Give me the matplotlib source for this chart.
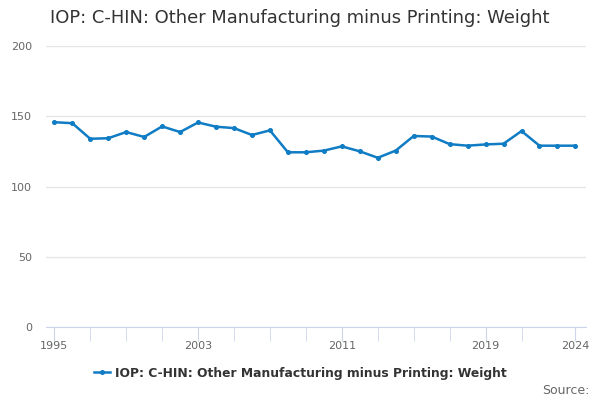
import matplotlib
matplotlib.use("Agg")
import matplotlib.pyplot as plt

# --- datos ---
years = list(range(1995, 2025))
weight = [145.8, 145.1, 134.0, 134.4, 138.8, 135.3, 142.8, 138.8, 145.6, 142.6,
          141.6, 136.7, 140.0, 124.4, 124.4, 125.6, 128.6, 125.1, 120.5, 125.6,
          136.0, 135.6, 130.2, 129.1, 130.0, 130.5, 139.5, 129.1, 129.1, 129.1]
y_ticks = [0, 50, 100, 150, 200]
x_labels = [1995, 2003, 2011, 2019, 2024]
x_minor = [1997, 1999, 2001, 2005, 2007, 2009, 2013, 2015, 2017, 2021]

titulo = "IOP: C-HIN: Other Manufacturing minus Printing: Weight"
color_linea = "#0f7cc4"

fig = plt.figure(figsize=(6, 4), dpi=100)
ax = fig.add_axes([0.077, 0.182, 0.900, 0.703])

ax.plot(years, weight, color=color_linea, lw=1.8, marker="o", ms=2.6,
        label=titulo)

ax.set_xlim(1994.55, 2024.6)
ax.set_ylim(0, 200)
ax.set_yticks(y_ticks)
ax.set_xticks(x_labels)
ax.set_xticks(x_minor, minor=True)

ax.grid(axis="y", color="#e6e6e6", lw=1)
ax.set_axisbelow(True)
for s in ["top", "right", "left"]:
    ax.spines[s].set_visible(False)
ax.spines["bottom"].set_color("#ccd6eb")

ax.tick_params(axis="y", length=0, labelsize=8, labelcolor="#666666", pad=10)
ax.tick_params(axis="x", which="both", length=10, color="#ccd6eb",
               labelsize=8, labelcolor="#666666", pad=0)
ax.tick_params(axis="x", which="minor", labelbottom=False)

fig.text(0.083, 0.955, titulo, fontsize=12.85, color="#333333", va="center")

# leyenda centrada en la figura, debajo del eje
leg = fig.legend(loc="center", bbox_to_anchor=(0.5, 0.067), frameon=False,
                 fontsize=8.95, handlelength=1.3, handletextpad=0.4)
for t in leg.get_texts():
    t.set_color("#333333")
    t.set_fontweight("bold")

fig.text(0.982, 0.025, "Source:", fontsize=9, color="#666666", ha="right",
         va="center")

fig.savefig("out.png", dpi=100)
